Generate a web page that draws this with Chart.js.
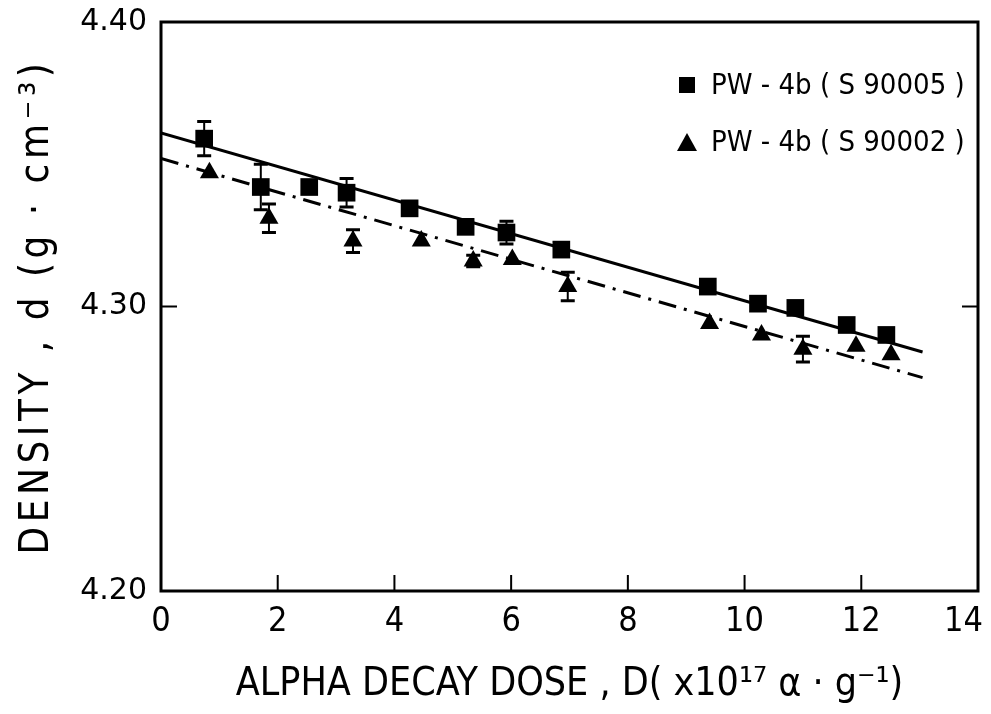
<!DOCTYPE html>
<html>
<head>
<meta charset="UTF-8">
<title>Density vs alpha decay dose</title>
<script src="https://cdn.jsdelivr.net/npm/chart.js@4.4.1/dist/chart.umd.min.js"></script>
<style>
  body { margin: 0; background: #fff; }
  #wrap { width: 991px; height: 714px; }
</style>
</head>
<body>
<div id="wrap"><canvas id="chart-area" width="991" height="714"></canvas></div>
<script>
// PW-4b (S90005) - squares
var doseA = [0.74, 1.71, 2.54, 3.18, 4.26, 5.22, 5.92, 6.86, 9.37, 10.23, 10.87, 11.75, 12.43];
var densA = [4.359, 4.342, 4.342, 4.340, 4.3345, 4.328, 4.326, 4.320, 4.307, 4.301, 4.2995, 4.2935, 4.290];
var errA  = [0.006, 0.008, 0, 0.005, 0, 0, 0.004, 0, 0, 0, 0.002, 0, 0];

// PW-4b (S90002) - triangles
var doseB = [0.83, 1.85, 3.29, 4.46, 5.35, 6.02, 6.97, 9.40, 10.29, 11.0, 11.91, 12.51];
var densB = [4.347, 4.331, 4.323, 4.323, 4.316, 4.3165, 4.307, 4.294, 4.290, 4.285, 4.286, 4.283];
var errB  = [0, 0.005, 0.004, 0, 0.002, 0, 0.005, 0, 0, 0.0045, 0, 0];

// fitted lines (end points)
var fitDose = [0, 13.05];
var fitA = [4.361, 4.284];
var fitB = [4.352, 4.275];

var xTicks = [0, 2, 4, 6, 8, 10, 12, 14];
var yTicks = [4.20, 4.30, 4.40];

var labelA = "PW - 4b ( S 90005 )";
var labelB = "PW - 4b ( S 90002 )";

function pts(xs, ys) {
    var out = [];
    for (var i = 0; i < xs.length; i++) out.push({ x: xs[i], y: ys[i] });
    return out;
}

var narrow = "'DejaVu Sans Condensed', 'Liberation Sans Narrow', 'DejaVu Sans', sans-serif";

// error bars, frame, inward ticks, legend
var decor = {
    id: 'decor',
    beforeDraw: function (chart) {
        // the y title in the original is widely letter-spaced
        var s = chart.scales.y;
        if (s && !s._spaced) {
            var orig = s.drawTitle;
            s.drawTitle = function () {
                var c = this.ctx, prev = c.letterSpacing;
                c.letterSpacing = '4.5px';
                orig.apply(this, arguments);
                c.letterSpacing = prev || '0px';
            };
            s._spaced = true;
        }
    },
    afterDatasetsDraw: function (chart) {
        var ctx = chart.ctx, xs = chart.scales.x, ys = chart.scales.y, a = chart.chartArea;
        ctx.save();
        ctx.strokeStyle = '#000';
        function bars(xv, yv, ev) {
            for (var i = 0; i < xv.length; i++) {
                if (!ev[i]) continue;
                var px = xs.getPixelForValue(xv[i]);
                var top = ys.getPixelForValue(yv[i] + ev[i]);
                var bot = ys.getPixelForValue(yv[i] - ev[i]);
                ctx.lineWidth = 2;
                ctx.beginPath();
                ctx.moveTo(px, top); ctx.lineTo(px, bot);
                ctx.stroke();
                ctx.lineWidth = 3;
                ctx.beginPath();
                ctx.moveTo(px - 7, top); ctx.lineTo(px + 7, top);
                ctx.moveTo(px - 7, bot); ctx.lineTo(px + 7, bot);
                ctx.stroke();
            }
        }
        bars(doseA, densA, errA);
        bars(doseB, densB, errB);

        // frame
        ctx.lineWidth = 3;
        ctx.strokeRect(a.left, a.top, a.right - a.left, a.bottom - a.top);

        // inward ticks
        ctx.lineWidth = 2;
        ctx.beginPath();
        xTicks.forEach(function (t) {
            var px = xs.getPixelForValue(t);
            ctx.moveTo(px, a.bottom); ctx.lineTo(px, a.bottom - 16);
        });
        yTicks.forEach(function (t) {
            var py = ys.getPixelForValue(t);
            ctx.moveTo(a.left, py); ctx.lineTo(a.left + 16, py);
            ctx.moveTo(a.right, py); ctx.lineTo(a.right - 16, py);
        });
        ctx.stroke();

        // legend
        ctx.fillStyle = '#000';
        ctx.fillRect(679, 77, 16, 16);
        ctx.beginPath();
        ctx.moveTo(687, 133); ctx.lineTo(697, 151); ctx.lineTo(677, 151);
        ctx.closePath();
        ctx.fill();
        ctx.font = "29px " + narrow;
        ctx.textBaseline = 'middle';
        ctx.textAlign = 'left';
        ctx.fillText(labelA, 711, 86);
        ctx.fillText(labelB, 711, 143);
        ctx.restore();
    }
};

var config = {
    type: 'scatter',
    data: {
        datasets: [
            {
                label: labelA,
                data: pts(doseA, densA),
                pointStyle: 'rect',
                pointRadius: 12.5,
                backgroundColor: '#000',
                borderColor: '#000',
                borderWidth: 0
            },
            {
                label: labelB,
                data: pts(doseB, densB),
                pointStyle: 'triangle',
                pointRadius: 11,
                backgroundColor: '#000',
                borderColor: '#000',
                borderWidth: 0
            },
            {
                label: 'fit A',
                data: pts(fitDose, fitA),
                showLine: true,
                pointRadius: 0,
                borderColor: '#000',
                borderWidth: 3
            },
            {
                label: 'fit B',
                data: pts(fitDose, fitB),
                showLine: true,
                pointRadius: 0,
                borderColor: '#000',
                borderWidth: 3,
                borderDash: [18, 8, 3, 8]
            }
        ]
    },
    options: {
        responsive: false,
        animation: false,
        layout: { padding: { left: 0, right: 13, top: 22, bottom: 0 } },
        plugins: {
            legend: { display: false },
            tooltip: { enabled: false }
        },
        scales: {
            x: {
                type: 'linear',
                min: 0,
                max: 14,
                grid: { display: false },
                border: { display: false },
                afterBuildTicks: function (s) { s.ticks = xTicks.map(function (v) { return { value: v }; }); },
                afterFit: function (s) { s.height = 123; s.paddingLeft = 0; s.paddingRight = 0; },
                ticks: {
                    color: '#000',
                    padding: 3,
                    font: { family: narrow, size: 34 },
                    // last label sits a little left of its tick in the original
                    callback: function (v) { return v === 14 ? '14   ' : String(v); }
                },
                title: {
                    display: true,
                    text: 'ALPHA DECAY DOSE , D( x10¹⁷ α · g⁻¹)',
                    color: '#000',
                    font: { family: narrow, size: 39 },
                    padding: { top: 6, bottom: 6 }
                }
            },
            y: {
                min: 4.2,
                max: 4.4,
                grid: { display: false },
                border: { display: false },
                afterBuildTicks: function (s) { s.ticks = yTicks.map(function (v) { return { value: v }; }); },
                afterFit: function (s) { s.width = 161; s.paddingTop = 0; s.paddingBottom = 0; },
                ticks: {
                    color: '#000',
                    padding: 6,
                    font: { family: "'DejaVu Sans', sans-serif", size: 30 },
                    callback: function (v) { return Number(v).toFixed(2); }
                },
                title: {
                    display: true,
                    text: 'DENSITY , d (g · cm⁻³)',
                    color: '#000',
                    font: { family: narrow, size: 40 },
                    padding: { top: 14, bottom: 4 }
                }
            }
        }
    },
    plugins: [decor]
};

var ctx = document.getElementById("chart-area").getContext("2d");
window.myChart = new Chart(ctx, config);
</script>
</body>
</html>
